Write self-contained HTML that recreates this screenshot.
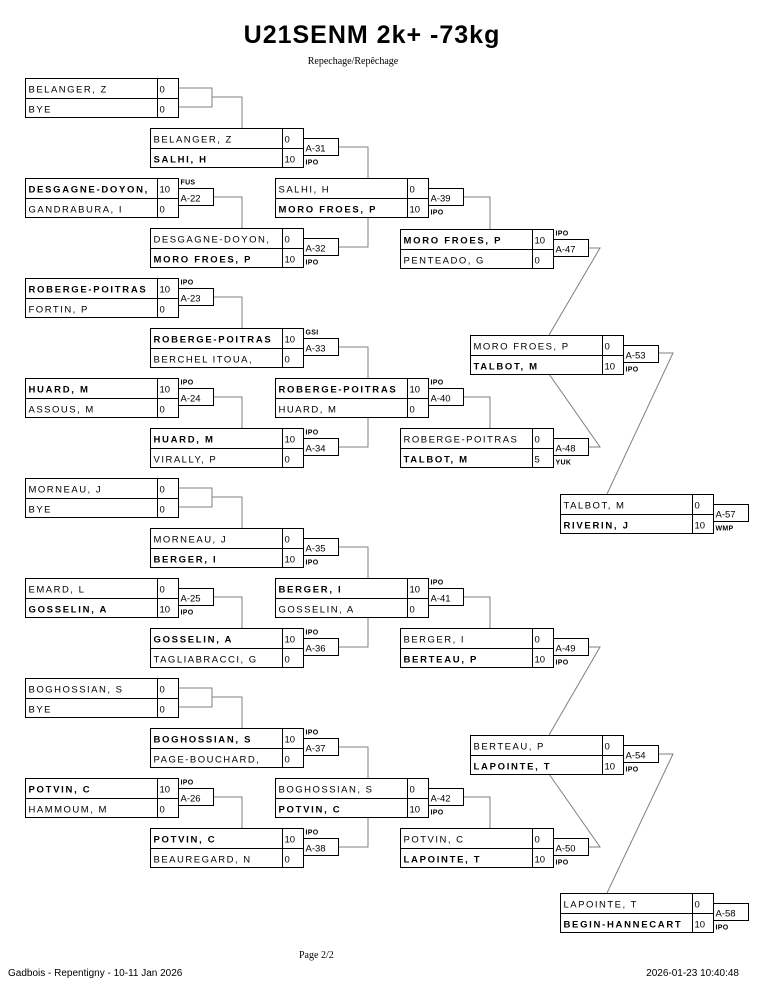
<!DOCTYPE html>
<html><head><meta charset="utf-8"><style>
html,body{margin:0;padding:0;background:#fff;}
svg{display:block;}
.b{fill:none;stroke:#000;stroke-width:1;}
.c{fill:none;stroke:#808080;stroke-width:1;}
text{font-family:"Liberation Sans",Arial,sans-serif;font-size:9.5px;fill:#000;}
.n{letter-spacing:1.5px;}
.w{letter-spacing:1.7px;font-weight:bold;}
.t{font-size:7px;font-weight:bold;letter-spacing:0.3px;}
</style></head><body>
<svg width="765" height="990" viewBox="0 0 765 990" xmlns="http://www.w3.org/2000/svg">
<text x="372" y="43" text-anchor="middle" style="font-size:25px;font-weight:bold;letter-spacing:1px;">U21SENM 2k+ -73kg</text>
<text x="353" y="64" text-anchor="middle" style="font-family:'Liberation Serif',serif;font-size:10px;">Repechage/Repêchage</text>

<g class="c">
<polyline points="178,88 212,88 212,107 178,107"/><polyline points="212,97 242,97 242,128"/>
<polyline points="178,488 212,488 212,507 178,507"/><polyline points="212,497 242,497 242,528"/>
<polyline points="178,688 212,688 212,707 178,707"/><polyline points="212,697 242,697 242,728"/>
<polyline points="213,197 242,197 242,228"/>
<polyline points="213,297 242,297 242,328"/>
<polyline points="213,397 242,397 242,428"/>
<polyline points="213,597 242,597 242,628"/>
<polyline points="213,797 242,797 242,828"/>
<polyline points="338,147 368,147 368,178"/>
<polyline points="338,247 368,247 368,217"/>
<polyline points="338,347 368,347 368,378"/>
<polyline points="338,447 368,447 368,417"/>
<polyline points="338,547 368,547 368,578"/>
<polyline points="338,647 368,647 368,617"/>
<polyline points="338,747 368,747 368,778"/>
<polyline points="338,847 368,847 368,817"/>
<polyline points="463,197 490,197 490,229"/>
<polyline points="463,397 490,397 490,428"/>
<polyline points="463,597 490,597 490,628"/>
<polyline points="463,797 490,797 490,828"/>
<polyline points="588,248 600,248 549,335"/>
<polyline points="588,447 600,447 549,374"/>
<polyline points="588,647 600,647 549,735"/>
<polyline points="588,847 600,847 549,774"/>
<polyline points="658,353 673,353 607,494"/>
<polyline points="658,754 673,754 607,893"/>
</g>

<g transform="translate(25.5,78.5)"><rect class="b" width="153" height="39"/><line class="b" x1="0" y1="20" x2="153" y2="20"/><line class="b" x1="132" y1="0" x2="132" y2="39"/>
<text x="3" y="14" class="n">BELANGER, Z</text><text x="3" y="34" class="n">BYE</text><text x="134" y="14">0</text><text x="134" y="34">0</text></g>

<g transform="translate(25.5,178.5)"><rect class="b" width="153" height="39"/><line class="b" x1="0" y1="20" x2="153" y2="20"/><line class="b" x1="132" y1="0" x2="132" y2="39"/><rect class="b" x="153" y="10" width="35" height="17"/>
<text x="3" y="14" class="w">DESGAGNE-DOYON,</text><text x="3" y="34" class="n">GANDRABURA, I</text><text x="134" y="14">10</text><text x="134" y="34">0</text><text x="155" y="23">A-22</text><text x="155" y="6" class="t">FUS</text></g>

<g transform="translate(25.5,278.5)"><rect class="b" width="153" height="39"/><line class="b" x1="0" y1="20" x2="153" y2="20"/><line class="b" x1="132" y1="0" x2="132" y2="39"/><rect class="b" x="153" y="10" width="35" height="17"/>
<text x="3" y="14" class="w">ROBERGE-POITRAS</text><text x="3" y="34" class="n">FORTIN, P</text><text x="134" y="14">10</text><text x="134" y="34">0</text><text x="155" y="23">A-23</text><text x="155" y="6" class="t">IPO</text></g>

<g transform="translate(25.5,378.5)"><rect class="b" width="153" height="39"/><line class="b" x1="0" y1="20" x2="153" y2="20"/><line class="b" x1="132" y1="0" x2="132" y2="39"/><rect class="b" x="153" y="10" width="35" height="17"/>
<text x="3" y="14" class="w">HUARD, M</text><text x="3" y="34" class="n">ASSOUS, M</text><text x="134" y="14">10</text><text x="134" y="34">0</text><text x="155" y="23">A-24</text><text x="155" y="6" class="t">IPO</text></g>

<g transform="translate(25.5,478.5)"><rect class="b" width="153" height="39"/><line class="b" x1="0" y1="20" x2="153" y2="20"/><line class="b" x1="132" y1="0" x2="132" y2="39"/>
<text x="3" y="14" class="n">MORNEAU, J</text><text x="3" y="34" class="n">BYE</text><text x="134" y="14">0</text><text x="134" y="34">0</text></g>

<g transform="translate(25.5,578.5)"><rect class="b" width="153" height="39"/><line class="b" x1="0" y1="20" x2="153" y2="20"/><line class="b" x1="132" y1="0" x2="132" y2="39"/><rect class="b" x="153" y="10" width="35" height="17"/>
<text x="3" y="14" class="n">EMARD, L</text><text x="3" y="34" class="w">GOSSELIN, A</text><text x="134" y="14">0</text><text x="134" y="34">10</text><text x="155" y="23">A-25</text><text x="155" y="36" class="t">IPO</text></g>

<g transform="translate(25.5,678.5)"><rect class="b" width="153" height="39"/><line class="b" x1="0" y1="20" x2="153" y2="20"/><line class="b" x1="132" y1="0" x2="132" y2="39"/>
<text x="3" y="14" class="n">BOGHOSSIAN, S</text><text x="3" y="34" class="n">BYE</text><text x="134" y="14">0</text><text x="134" y="34">0</text></g>

<g transform="translate(25.5,778.5)"><rect class="b" width="153" height="39"/><line class="b" x1="0" y1="20" x2="153" y2="20"/><line class="b" x1="132" y1="0" x2="132" y2="39"/><rect class="b" x="153" y="10" width="35" height="17"/>
<text x="3" y="14" class="w">POTVIN, C</text><text x="3" y="34" class="n">HAMMOUM, M</text><text x="134" y="14">10</text><text x="134" y="34">0</text><text x="155" y="23">A-26</text><text x="155" y="6" class="t">IPO</text></g>

<g transform="translate(150.5,128.5)"><rect class="b" width="153" height="39"/><line class="b" x1="0" y1="20" x2="153" y2="20"/><line class="b" x1="132" y1="0" x2="132" y2="39"/><rect class="b" x="153" y="10" width="35" height="17"/>
<text x="3" y="14" class="n">BELANGER, Z</text><text x="3" y="34" class="w">SALHI, H</text><text x="134" y="14">0</text><text x="134" y="34">10</text><text x="155" y="23">A-31</text><text x="155" y="36" class="t">IPO</text></g>

<g transform="translate(150.5,228.5)"><rect class="b" width="153" height="39"/><line class="b" x1="0" y1="20" x2="153" y2="20"/><line class="b" x1="132" y1="0" x2="132" y2="39"/><rect class="b" x="153" y="10" width="35" height="17"/>
<text x="3" y="14" class="n">DESGAGNE-DOYON,</text><text x="3" y="34" class="w">MORO FROES, P</text><text x="134" y="14">0</text><text x="134" y="34">10</text><text x="155" y="23">A-32</text><text x="155" y="36" class="t">IPO</text></g>

<g transform="translate(150.5,328.5)"><rect class="b" width="153" height="39"/><line class="b" x1="0" y1="20" x2="153" y2="20"/><line class="b" x1="132" y1="0" x2="132" y2="39"/><rect class="b" x="153" y="10" width="35" height="17"/>
<text x="3" y="14" class="w">ROBERGE-POITRAS</text><text x="3" y="34" class="n">BERCHEL ITOUA,</text><text x="134" y="14">10</text><text x="134" y="34">0</text><text x="155" y="23">A-33</text><text x="155" y="6" class="t">GSI</text></g>

<g transform="translate(150.5,428.5)"><rect class="b" width="153" height="39"/><line class="b" x1="0" y1="20" x2="153" y2="20"/><line class="b" x1="132" y1="0" x2="132" y2="39"/><rect class="b" x="153" y="10" width="35" height="17"/>
<text x="3" y="14" class="w">HUARD, M</text><text x="3" y="34" class="n">VIRALLY, P</text><text x="134" y="14">10</text><text x="134" y="34">0</text><text x="155" y="23">A-34</text><text x="155" y="6" class="t">IPO</text></g>

<g transform="translate(150.5,528.5)"><rect class="b" width="153" height="39"/><line class="b" x1="0" y1="20" x2="153" y2="20"/><line class="b" x1="132" y1="0" x2="132" y2="39"/><rect class="b" x="153" y="10" width="35" height="17"/>
<text x="3" y="14" class="n">MORNEAU, J</text><text x="3" y="34" class="w">BERGER, I</text><text x="134" y="14">0</text><text x="134" y="34">10</text><text x="155" y="23">A-35</text><text x="155" y="36" class="t">IPO</text></g>

<g transform="translate(150.5,628.5)"><rect class="b" width="153" height="39"/><line class="b" x1="0" y1="20" x2="153" y2="20"/><line class="b" x1="132" y1="0" x2="132" y2="39"/><rect class="b" x="153" y="10" width="35" height="17"/>
<text x="3" y="14" class="w">GOSSELIN, A</text><text x="3" y="34" class="n">TAGLIABRACCI, G</text><text x="134" y="14">10</text><text x="134" y="34">0</text><text x="155" y="23">A-36</text><text x="155" y="6" class="t">IPO</text></g>

<g transform="translate(150.5,728.5)"><rect class="b" width="153" height="39"/><line class="b" x1="0" y1="20" x2="153" y2="20"/><line class="b" x1="132" y1="0" x2="132" y2="39"/><rect class="b" x="153" y="10" width="35" height="17"/>
<text x="3" y="14" class="w">BOGHOSSIAN, S</text><text x="3" y="34" class="n">PAGE-BOUCHARD,</text><text x="134" y="14">10</text><text x="134" y="34">0</text><text x="155" y="23">A-37</text><text x="155" y="6" class="t">IPO</text></g>

<g transform="translate(150.5,828.5)"><rect class="b" width="153" height="39"/><line class="b" x1="0" y1="20" x2="153" y2="20"/><line class="b" x1="132" y1="0" x2="132" y2="39"/><rect class="b" x="153" y="10" width="35" height="17"/>
<text x="3" y="14" class="w">POTVIN, C</text><text x="3" y="34" class="n">BEAUREGARD, N</text><text x="134" y="14">10</text><text x="134" y="34">0</text><text x="155" y="23">A-38</text><text x="155" y="6" class="t">IPO</text></g>

<g transform="translate(275.5,178.5)"><rect class="b" width="153" height="39"/><line class="b" x1="0" y1="20" x2="153" y2="20"/><line class="b" x1="132" y1="0" x2="132" y2="39"/><rect class="b" x="153" y="10" width="35" height="17"/>
<text x="3" y="14" class="n">SALHI, H</text><text x="3" y="34" class="w">MORO FROES, P</text><text x="134" y="14">0</text><text x="134" y="34">10</text><text x="155" y="23">A-39</text><text x="155" y="36" class="t">IPO</text></g>

<g transform="translate(275.5,378.5)"><rect class="b" width="153" height="39"/><line class="b" x1="0" y1="20" x2="153" y2="20"/><line class="b" x1="132" y1="0" x2="132" y2="39"/><rect class="b" x="153" y="10" width="35" height="17"/>
<text x="3" y="14" class="w">ROBERGE-POITRAS</text><text x="3" y="34" class="n">HUARD, M</text><text x="134" y="14">10</text><text x="134" y="34">0</text><text x="155" y="23">A-40</text><text x="155" y="6" class="t">IPO</text></g>

<g transform="translate(275.5,578.5)"><rect class="b" width="153" height="39"/><line class="b" x1="0" y1="20" x2="153" y2="20"/><line class="b" x1="132" y1="0" x2="132" y2="39"/><rect class="b" x="153" y="10" width="35" height="17"/>
<text x="3" y="14" class="w">BERGER, I</text><text x="3" y="34" class="n">GOSSELIN, A</text><text x="134" y="14">10</text><text x="134" y="34">0</text><text x="155" y="23">A-41</text><text x="155" y="6" class="t">IPO</text></g>

<g transform="translate(275.5,778.5)"><rect class="b" width="153" height="39"/><line class="b" x1="0" y1="20" x2="153" y2="20"/><line class="b" x1="132" y1="0" x2="132" y2="39"/><rect class="b" x="153" y="10" width="35" height="17"/>
<text x="3" y="14" class="n">BOGHOSSIAN, S</text><text x="3" y="34" class="w">POTVIN, C</text><text x="134" y="14">0</text><text x="134" y="34">10</text><text x="155" y="23">A-42</text><text x="155" y="36" class="t">IPO</text></g>

<g transform="translate(400.5,229.5)"><rect class="b" width="153" height="39"/><line class="b" x1="0" y1="20" x2="153" y2="20"/><line class="b" x1="132" y1="0" x2="132" y2="39"/><rect class="b" x="153" y="10" width="35" height="17"/>
<text x="3" y="14" class="w">MORO FROES, P</text><text x="3" y="34" class="n">PENTEADO, G</text><text x="134" y="14">10</text><text x="134" y="34">0</text><text x="155" y="23">A-47</text><text x="155" y="6" class="t">IPO</text></g>

<g transform="translate(400.5,428.5)"><rect class="b" width="153" height="39"/><line class="b" x1="0" y1="20" x2="153" y2="20"/><line class="b" x1="132" y1="0" x2="132" y2="39"/><rect class="b" x="153" y="10" width="35" height="17"/>
<text x="3" y="14" class="n">ROBERGE-POITRAS</text><text x="3" y="34" class="w">TALBOT, M</text><text x="134" y="14">0</text><text x="134" y="34">5</text><text x="155" y="23">A-48</text><text x="155" y="36" class="t">YUK</text></g>

<g transform="translate(400.5,628.5)"><rect class="b" width="153" height="39"/><line class="b" x1="0" y1="20" x2="153" y2="20"/><line class="b" x1="132" y1="0" x2="132" y2="39"/><rect class="b" x="153" y="10" width="35" height="17"/>
<text x="3" y="14" class="n">BERGER, I</text><text x="3" y="34" class="w">BERTEAU, P</text><text x="134" y="14">0</text><text x="134" y="34">10</text><text x="155" y="23">A-49</text><text x="155" y="36" class="t">IPO</text></g>

<g transform="translate(400.5,828.5)"><rect class="b" width="153" height="39"/><line class="b" x1="0" y1="20" x2="153" y2="20"/><line class="b" x1="132" y1="0" x2="132" y2="39"/><rect class="b" x="153" y="10" width="35" height="17"/>
<text x="3" y="14" class="n">POTVIN, C</text><text x="3" y="34" class="w">LAPOINTE, T</text><text x="134" y="14">0</text><text x="134" y="34">10</text><text x="155" y="23">A-50</text><text x="155" y="36" class="t">IPO</text></g>

<g transform="translate(470.5,335.5)"><rect class="b" width="153" height="39"/><line class="b" x1="0" y1="20" x2="153" y2="20"/><line class="b" x1="132" y1="0" x2="132" y2="39"/><rect class="b" x="153" y="10" width="35" height="17"/>
<text x="3" y="14" class="n">MORO FROES, P</text><text x="3" y="34" class="w">TALBOT, M</text><text x="134" y="14">0</text><text x="134" y="34">10</text><text x="155" y="23">A-53</text><text x="155" y="36" class="t">IPO</text></g>

<g transform="translate(470.5,735.5)"><rect class="b" width="153" height="39"/><line class="b" x1="0" y1="20" x2="153" y2="20"/><line class="b" x1="132" y1="0" x2="132" y2="39"/><rect class="b" x="153" y="10" width="35" height="17"/>
<text x="3" y="14" class="n">BERTEAU, P</text><text x="3" y="34" class="w">LAPOINTE, T</text><text x="134" y="14">0</text><text x="134" y="34">10</text><text x="155" y="23">A-54</text><text x="155" y="36" class="t">IPO</text></g>

<g transform="translate(560.5,494.5)"><rect class="b" width="153" height="39"/><line class="b" x1="0" y1="20" x2="153" y2="20"/><line class="b" x1="132" y1="0" x2="132" y2="39"/><rect class="b" x="153" y="10" width="35" height="17"/>
<text x="3" y="14" class="n">TALBOT, M</text><text x="3" y="34" class="w">RIVERIN, J</text><text x="134" y="14">0</text><text x="134" y="34">10</text><text x="155" y="23">A-57</text><text x="155" y="36" class="t">WMP</text></g>

<g transform="translate(560.5,893.5)"><rect class="b" width="153" height="39"/><line class="b" x1="0" y1="20" x2="153" y2="20"/><line class="b" x1="132" y1="0" x2="132" y2="39"/><rect class="b" x="153" y="10" width="35" height="17"/>
<text x="3" y="14" class="n">LAPOINTE, T</text><text x="3" y="34" class="w">BEGIN-HANNECART</text><text x="134" y="14">0</text><text x="134" y="34">10</text><text x="155" y="23">A-58</text><text x="155" y="36" class="t">IPO</text></g>

<text x="299" y="958" style="font-family:'Liberation Serif',serif;font-size:10px;">Page 2/2</text>
<text x="8" y="976" style="font-size:10px;">Gadbois - Repentigny - 10-11 Jan 2026</text>
<text x="739" y="976" text-anchor="end" style="font-size:10px;">2026-01-23 10:40:48</text>
</svg>
</body></html>
